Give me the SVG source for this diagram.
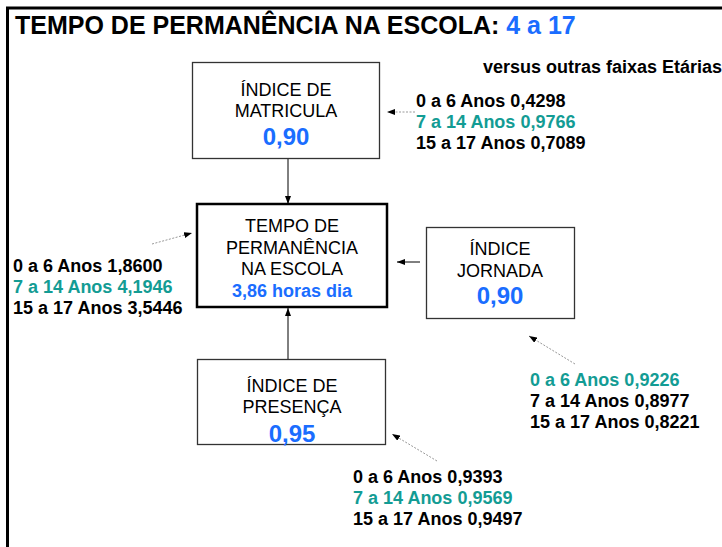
<svg xmlns="http://www.w3.org/2000/svg" width="722" height="547" viewBox="0 0 722 547">
<defs>
<style>
text{font-family:"Liberation Sans",Arial,sans-serif;}
.box{fill:#fff;stroke:#333;stroke-width:1.3;}
.main{fill:#fff;stroke:#000;stroke-width:2.5;}
.lbl{font-size:18px;fill:#000;text-anchor:middle;}
.val{font-size:24px;font-weight:bold;fill:#1a6dff;text-anchor:middle;}
.dat{font-size:18px;font-weight:bold;fill:#000;}
.teal{fill:#139c94;}
.blue{fill:#1a6dff;}
.solid{stroke:#000;stroke-width:1;fill:none;}
.dot{stroke:#999;stroke-width:1;stroke-dasharray:2 1.5;fill:none;}
</style>
<marker id="ah" viewBox="0 0 8 6" refX="8" refY="3" markerWidth="8" markerHeight="6" markerUnits="userSpaceOnUse" orient="auto">
<path d="M0,0 L8,3 L0,6 Z" fill="#000"/>
</marker>
</defs>
<rect width="722" height="547" fill="#fff"/>
<rect x="7.5" y="8" width="730" height="550" fill="none" stroke="#000" stroke-width="3"/>
<text x="15" y="33.5" style="font-size:25px;font-weight:bold">TEMPO DE PERMANÊNCIA NA ESCOLA: <tspan class="blue">4 a 17</tspan></text>
<text class="dat" x="483" y="73">versus outras faixas Etárias</text>

<g id="connectors">
<line class="solid" x1="288" y1="158" x2="288" y2="204" marker-end="url(#ah)"/>
<line class="solid" x1="288" y1="359" x2="288" y2="308" marker-end="url(#ah)"/>
<line class="solid" x1="420" y1="262" x2="397" y2="262" marker-end="url(#ah)"/>
<line class="dot" x1="152" y1="244" x2="192" y2="233" marker-end="url(#ah)"/>
<line class="dot" x1="415" y1="112" x2="387" y2="112" marker-end="url(#ah)"/>
<line class="dot" x1="575" y1="364" x2="529" y2="336" marker-end="url(#ah)"/>
<line class="dot" x1="437" y1="461" x2="392" y2="434" marker-end="url(#ah)"/>
</g>

<g id="matricula">
<rect class="box" x="192.5" y="62.5" width="187" height="96"/>
<text class="lbl" x="286" y="95.5">ÍNDICE DE</text>
<text class="lbl" x="286" y="117">MATRICULA</text>
<text class="val" x="286" y="145">0,90</text>
</g>

<g id="tempo">
<rect class="main" x="197" y="204" width="190" height="103"/>
<text class="lbl" x="292" y="232">TEMPO DE</text>
<text class="lbl" x="292" y="253.5">PERMANÊNCIA</text>
<text class="lbl" x="292" y="275">NA ESCOLA</text>
<text class="lbl blue" x="292" y="297" style="font-weight:bold">3,86 horas dia</text>
</g>

<g id="jornada">
<rect class="box" x="426.5" y="227.5" width="148" height="91"/>
<text class="lbl" x="500" y="255">ÍNDICE</text>
<text class="lbl" x="500" y="277">JORNADA</text>
<text class="val" x="500" y="304">0,90</text>
</g>

<g id="presenca">
<rect class="box" x="197.5" y="359.5" width="188" height="85"/>
<text class="lbl" x="292" y="392">ÍNDICE DE</text>
<text class="lbl" x="292" y="413">PRESENÇA</text>
<text class="val" x="292" y="441.5">0,95</text>
</g>

<g id="dados-matricula">
<text class="dat" x="416" y="107">0 a 6 Anos 0,4298</text>
<text class="dat teal" x="416" y="128">7 a 14 Anos 0,9766</text>
<text class="dat" x="416" y="149">15 a 17 Anos 0,7089</text>
</g>

<g id="dados-tempo">
<text class="dat" x="13" y="271.5">0 a 6 Anos 1,8600</text>
<text class="dat teal" x="13" y="292.5">7 a 14 Anos 4,1946</text>
<text class="dat" x="13" y="313.5">15 a 17 Anos 3,5446</text>
</g>

<g id="dados-jornada">
<text class="dat teal" x="530" y="386">0 a 6 Anos 0,9226</text>
<text class="dat" x="530" y="407">7 a 14 Anos 0,8977</text>
<text class="dat" x="530" y="428">15 a 17 Anos 0,8221</text>
</g>

<g id="dados-presenca">
<text class="dat" x="353" y="482.5">0 a 6 Anos 0,9393</text>
<text class="dat teal" x="353" y="504">7 a 14 Anos 0,9569</text>
<text class="dat" x="353" y="525">15 a 17 Anos 0,9497</text>
</g>
</svg>
